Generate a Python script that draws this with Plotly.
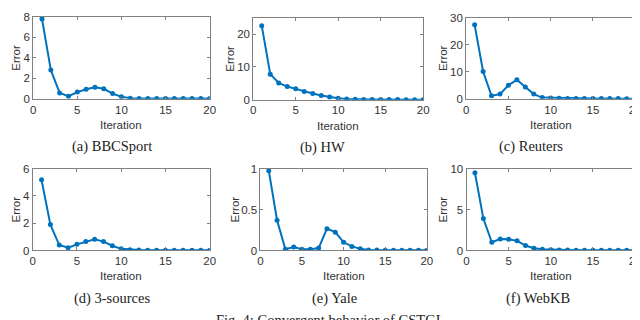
import plotly.graph_objects as go

iterations = list(range(1, 21))

bbcsport = [7.8, 2.8, 0.56, 0.25, 0.65, 0.93, 1.12, 0.97, 0.5, 0.19,
            0.05, 0.03, 0.02, 0.01, 0.01, 0.01, 0.01, 0.01, 0.01, 0.01]
hw = [22.6, 7.8, 5.1, 4.0, 3.3, 2.5, 1.9, 1.3, 0.8, 0.4,
      0.2, 0.1, 0.06, 0.04, 0.03, 0.02, 0.02, 0.01, 0.01, 0.01]
reuters = [27.4, 10.1, 1.1, 1.7, 5.0, 7.0, 4.3, 1.7, 0.4, 0.3,
           0.2, 0.1, 0.08, 0.06, 0.05, 0.04, 0.03, 0.03, 0.02, 0.02]
three_sources = [5.18, 1.9, 0.4, 0.2, 0.45, 0.65, 0.82, 0.65, 0.35, 0.12,
                 0.05, 0.03, 0.02, 0.02, 0.01, 0.01, 0.01, 0.01, 0.01, 0.01]
yale = [0.976, 0.37, 0.016, 0.043, 0.016, 0.016, 0.03, 0.267, 0.224, 0.1,
        0.05, 0.02, 0.006, 0.005, 0.004, 0.004, 0.003, 0.003, 0.003, 0.003]
webkb = [9.5, 3.9, 1.0, 1.4, 1.37, 1.18, 0.6, 0.27, 0.15, 0.1,
         0.07, 0.05, 0.04, 0.03, 0.03, 0.02, 0.02, 0.02, 0.02, 0.02]

series = [bbcsport, hw, reuters, three_sources, yale, webkb]
captions = ["(a) BBCSport", "(b) HW", "(c) Reuters",
            "(d) 3-sources", "(e) Yale", "(f) WebKB"]
y_ranges = [[0, 8], [0, 25], [0, 30], [0, 6], [0, 1], [0, 10]]
y_ticks = [[0, 2, 4, 6, 8], [0, 10, 20], [0, 10, 20, 30],
           [0, 2, 4, 6], [0, 0.5, 1], [0, 5, 10]]
x_ticks = [0, 5, 10, 15, 20]

W, H = 640, 320
# plot boxes in pixels: (left, right, top, bottom)
boxes = [(22.5, 201.5, 3, 88), (245.7, 418, 4, 89), (461.7, 633, 4, 88),
         (22, 201.5, 160.7, 245.7), (253, 421.7, 160.7, 245.7), (462, 633, 160.7, 245.7)]
err_x = [5, 222, 438, 5, 227, 438]
cap_x = [102, 316, 527, 102, 328, 535]

blue = "#0072BD"
axis_col = "#808080"
txt_col = "#333333"

fig = go.Figure()
layout = dict(width=W, height=H, margin=dict(l=0, r=0, t=0, b=0),
              plot_bgcolor="white", paper_bgcolor="white", showlegend=False)
annotations = []


def note(text, x, y, size, family, angle=0, yanchor="middle"):
    return dict(text=text, x=x / W, y=1 - y / H, xref="paper", yref="paper",
                xanchor="center", yanchor=yanchor, showarrow=False, textangle=angle,
                font=dict(family=family, size=size,
                          color=txt_col if family == "Liberation Sans" else "#222222"))


for i, ys in enumerate(series):
    n = "" if i == 0 else str(i + 1)
    fig.add_trace(go.Scatter(x=iterations, y=ys, mode="lines+markers",
                             line=dict(color=blue, width=2),
                             marker=dict(color=blue, size=5),
                             xaxis="x" + n, yaxis="y" + n))
    l, r, t, b = boxes[i]
    common = dict(showgrid=False, zeroline=False, showline=True, mirror="ticks",
                  linecolor=axis_col, linewidth=1, ticks="inside", ticklen=3,
                  tickcolor=axis_col,
                  tickfont=dict(family="Liberation Sans", size=11.5, color=txt_col))
    layout["xaxis" + n] = dict(common, domain=[l / W, r / W], range=[0, 20],
                               tickvals=x_ticks, anchor="y" + n)
    layout["yaxis" + n] = dict(common, domain=[1 - b / H, 1 - t / H],
                               range=y_ranges[i], tickvals=y_ticks[i],
                               anchor="x" + n)
    annotations.append(note("Iteration", (l + r) / 2, b + 27, 11.5, "Liberation Sans"))
    annotations.append(note("Error", err_x[i], (t + b) / 2, 11.5, "Liberation Sans", angle=-90))
    annotations.append(note(captions[i], cap_x[i], b + 50, 14.5, "Liberation Serif"))

annotations.append(note("Fig. 4: Convergent behavior of CSTGL", 324, 308, 14.5,
                        "Liberation Serif", yanchor="top"))
layout["annotations"] = annotations
fig.update_layout(**layout)
fig.write_html("out.html")
